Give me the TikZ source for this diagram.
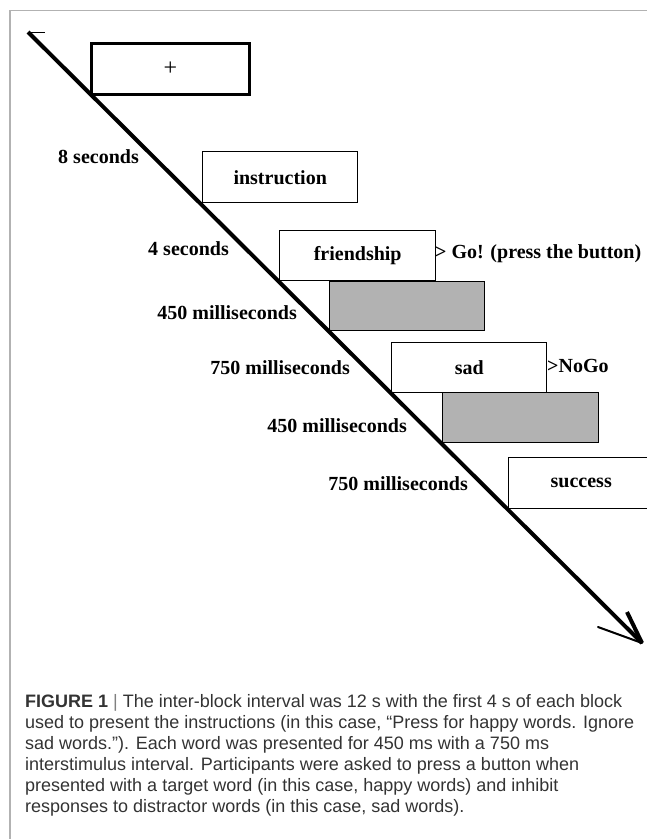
\documentclass[tikz,border=0pt]{standalone}
\usepackage{fontspec}
\setmainfont{Liberation Serif}
\newfontfamily\capfont{Liberation Sans}
\begin{document}
\begin{tikzpicture}[x=1pt,y=-1pt,
  lbl/.style={font=\fontsize{20}{22}\selectfont\bfseries, inner sep=0pt, anchor=base east},
  note/.style={font=\fontsize{20}{22}\selectfont\bfseries, inner sep=0pt, anchor=base west},
  stim/.style={draw=black, line width=1.4pt, rectangle, anchor=north west, inner sep=0pt,
    font=\fontsize{20}{22}\selectfont\bfseries},
  blank/.style={stim, fill=black!30},
  timeline/.style={line width=4pt, line cap=butt},
  frameline/.style={draw=black!30, line width=1.5pt},
  capline/.style={font=\capfont\fontsize{18}{21}\selectfont, text=black!80, inner sep=0pt, anchor=base west}
]
\useasboundingbox (0,0) rectangle (647,839);
% frame
\coordinate (fa) at (10,839);
\coordinate (fb) at (10,10.5);
\coordinate (fc) at (647,10.5);
\draw[frameline] (fa) -- (fb) -- (fc);

% stimulus boxes
\node[stim, line width=3pt, minimum width=158pt, minimum height=51pt, font=\fontsize{24}{26}\selectfont] (plus) at (90,42) {+};
\node[stim, minimum width=155pt, minimum height=51pt] (instr) at (202,151) {instruction};
\node[stim, minimum width=156pt, minimum height=50pt] (friend) at (279,230) {friendship};
\node[blank, minimum width=155pt, minimum height=49pt] (gray1) at (329,281) {};
\node[stim, minimum width=155pt, minimum height=50pt] (sad) at (391,342) {sad};
\node[blank, minimum width=156pt, minimum height=50pt] (gray2) at (442,392) {};
\node[stim, minimum width=150pt, minimum height=51pt, text width=150pt, align=left] (succ) at (508,457) {\hspace*{42pt}success};

% timeline
\coordinate (tstart) at (28,32);
\coordinate (ttick) at (45,32);
\coordinate (tend) at (642,643);
\coordinate (barbA) at (598,627);
\coordinate (barbB) at (627,612);
\draw[line width=0.8pt] (tstart) -- (ttick);
\draw[timeline] (tstart) -- (tend);
\draw[line width=2pt, line cap=round] (barbA) -- (tend);
\draw[line width=4pt, line cap=butt] (barbB) -- (tend);

% duration labels
\node[lbl] (d1) at (139,163) {8 seconds};
\node[lbl] (d2) at (229,255) {4 seconds};
\node[lbl] (d3) at (297,319) {450 milliseconds};
\node[lbl] (d4) at (350,374) {750 milliseconds};
\node[lbl] (d5) at (407,432) {450 milliseconds};
\node[lbl] (d6) at (468,490) {750 milliseconds};

% response notes
\node[note] (go) at (435,258) {> Go! (press the button)};
\node[note] (nogo) at (547,372) {>NoGo};

% caption
\node[capline] (c1) at (25,707) {\textbf{FIGURE 1} {\color{black!50}|} The inter-block interval was 12 s with the first 4 s of each block};
\node[capline] (c2) at (25,728) {used to present the instructions (in this case, “Press for happy words. Ignore};
\node[capline] (c3) at (25,749) {sad words.”). Each word was presented for 450 ms with a 750 ms};
\node[capline] (c4) at (25,770) {interstimulus interval. Participants were asked to press a button when};
\node[capline] (c5) at (25,791) {presented with a target word (in this case, happy words) and inhibit};
\node[capline] (c6) at (25,812) {responses to distractor words (in this case, sad words).};
\end{tikzpicture}
\end{document}
